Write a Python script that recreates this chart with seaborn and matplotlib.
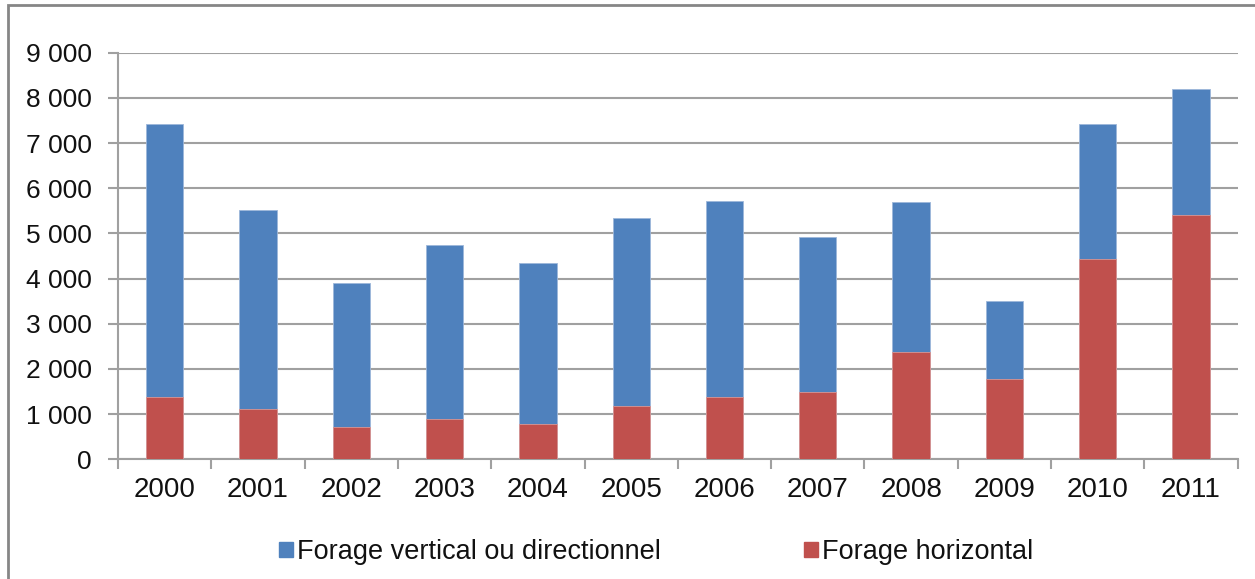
import matplotlib
matplotlib.use("Agg")
import matplotlib.pyplot as plt
import matplotlib.patches as mpatches
import matplotlib.ticker as mticker
import seaborn as sns
import pandas as pd

years = ["2000", "2001", "2002", "2003", "2004", "2005",
         "2006", "2007", "2008", "2009", "2010", "2011"]
horizontal = [1370, 1110, 715, 890, 780, 1180, 1370, 1490, 2370, 1770, 4430, 5400]
vertical = [6045, 4400, 3180, 3860, 3570, 4170, 4340, 3425, 3320, 1730, 2985, 2805]
series_names = ["Forage vertical ou directionnel", "Forage horizontal"]
colors = ["#4F81BD", "#C0504D"]
yticks = [0, 1000, 2000, 3000, 4000, 5000, 6000, 7000, 8000, 9000]

total = [h + v for h, v in zip(horizontal, vertical)]
df = pd.DataFrame({"year": years, "total": total, "horizontal": horizontal})

sns.set_style("white")
plt.rcParams["font.family"] = ["Liberation Sans", "DejaVu Sans"]

fig = plt.figure(figsize=(12.55, 5.79), dpi=100)
ax = fig.add_axes([118 / 1255, 1 - 459.3 / 579, (1237.7 - 118) / 1255, (459.3 - 52.7) / 579])

sns.barplot(data=df, x="year", y="total", color=colors[0], width=0.4,
            saturation=1, ax=ax, edgecolor="#9DB7DA", linewidth=0.6, zorder=3)
sns.barplot(data=df, x="year", y="horizontal", color=colors[1], width=0.4,
            saturation=1, ax=ax, edgecolor="#D99694", linewidth=0.6, zorder=3)

ax.set_xlim(-0.5, len(years) - 0.5)
ax.set_ylim(0, 9000)
ax.set_yticks(yticks)
ax.yaxis.set_major_formatter(mticker.FuncFormatter(lambda v, p: f"{int(v):,}".replace(",", " ")))
ax.set_xlabel("")
ax.set_ylabel("")

grid_c = "#A0A0A0"
ax.grid(axis="y", color=grid_c, linewidth=1.5, zorder=0)
ax.set_axisbelow(True)
for s in ["top", "right"]:
    ax.spines[s].set_visible(False)
ax.spines["left"].set_color(grid_c)
ax.spines["bottom"].set_color(grid_c)
ax.spines["left"].set_linewidth(1.5)
ax.spines["bottom"].set_linewidth(1.5)

ax.tick_params(axis="y", which="major", length=7, width=1.5, color=grid_c,
               labelsize=19, pad=12, direction="out", left=True, labelcolor="#111111")
ax.tick_params(axis="x", which="major", length=0, labelsize=20, pad=13, labelcolor="#111111")
ax.set_xticks([i - 0.5 for i in range(len(years) + 1)], minor=True)
ax.tick_params(axis="x", which="minor", length=7, width=1.5, color=grid_c,
               direction="out", bottom=True)

handles = [mpatches.Patch(color=c, label=n) for c, n in zip(colors, series_names)]
leg = fig.legend(handles=handles, loc="center", bbox_to_anchor=(656 / 1255, 1 - 552 / 579),
                 ncol=2, frameon=False, fontsize=19.5, handlelength=0.5, handleheight=0.5,
                 handletextpad=0.15, columnspacing=5.3)
for t in leg.get_texts():
    t.set_color("#111111")

border = mpatches.Rectangle((8 / 1255, -0.01), 1.02, 1 - 5 / 579 + 0.01,
                            transform=fig.transFigure, fill=False,
                            edgecolor="#868686", linewidth=2, clip_on=False)
fig.patches.append(border)

fig.savefig("out.png", dpi=100)
